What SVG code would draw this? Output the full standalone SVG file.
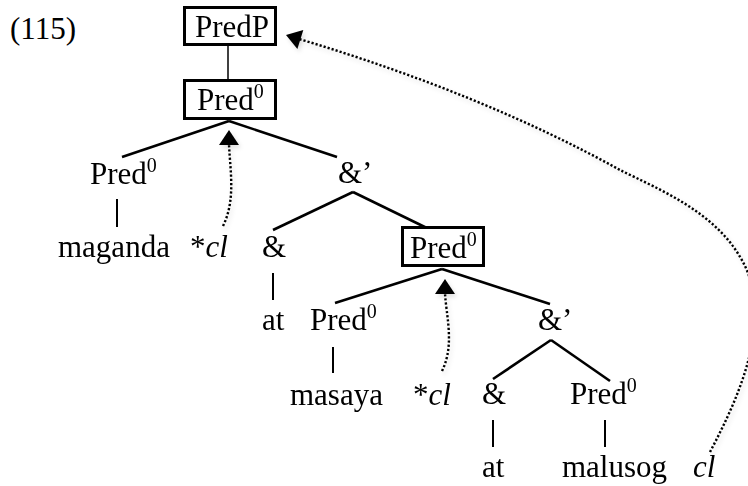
<svg xmlns="http://www.w3.org/2000/svg" width="748" height="486" viewBox="0 0 748 486">
<style>
text{font-family:"Liberation Serif","Tinos","Noto Serif","DejaVu Serif",serif;font-size:31px;fill:#000}
.sup{font-size:20px}
.it{font-style:italic}
.box{fill:#fff;stroke:#000;stroke-width:3}
.br{stroke:#000;stroke-width:2.6;fill:none;stroke-linecap:butt}
.bar{stroke:#000;stroke-width:2;fill:none}
.dot{stroke:#000;stroke-width:2.4;fill:none;stroke-dasharray:2.2 2}
.shd{filter:url(#sh)}
</style>
<defs>
<filter id="sh" x="-20%" y="-20%" width="140%" height="140%">
<feDropShadow dx="2" dy="3" stdDeviation="2" flood-color="#000" flood-opacity="0.12"/>
</filter>
<path id="arrow" d="M0,0 L10,15 L-10,15 z" fill="#000"/>
</defs>
<g id="label"><text x="10" y="39">(115)</text></g>
<g id="connectors">
<line class="bar" x1="228" y1="46" x2="228" y2="79" style="stroke-width:1.5"/>
<line class="br" x1="229" y1="121" x2="122" y2="157"/>
<line class="br" x1="229" y1="121" x2="337" y2="157"/>
<line class="br" x1="353" y1="192" x2="273" y2="230"/>
<line class="br" x1="353" y1="192" x2="433" y2="231"/>
<line class="br" x1="442" y1="269" x2="335" y2="303"/>
<line class="br" x1="442" y1="269" x2="550" y2="304"/>
<line class="br" x1="551" y1="340" x2="493" y2="379"/>
<line class="br" x1="551" y1="340" x2="610" y2="381"/>
<line class="bar" x1="117" y1="199" x2="117" y2="227"/>
<line class="bar" x1="273" y1="273" x2="273" y2="300"/>
<line class="bar" x1="333" y1="347" x2="333" y2="373"/>
<line class="bar" x1="493" y1="420" x2="493" y2="447"/>
<line class="bar" x1="605" y1="420" x2="605" y2="447"/>
<g class="shd">
<path class="dot" d="M223,226 C236,200 230,170 229,144"/>
<use href="#arrow" transform="translate(229,130)"/>
<path class="dot" d="M442,371 C455,345 446,315 445,293"/>
<use href="#arrow" transform="translate(445,279)"/>
<path class="dot" d="M710,452 C740,395 768,330 748,273 C725,215 660,190 620,170 C530,120 420,75 299,39"/>
<use href="#arrow" transform="translate(286,35) rotate(-72.8)"/>
</g>
</g>
<g id="PredP"><rect class="box" x="184.5" y="7.5" width="91" height="37"/><text x="195" y="37">PredP</text></g>
<g id="Pred0-top"><rect class="box" x="184.5" y="80.5" width="91" height="38"/><text x="197" y="110">Pred<tspan class="sup" dy="-12">0</tspan></text></g>
<g id="Pred0-a"><text x="90" y="184">Pred<tspan class="sup" dy="-12">0</tspan></text></g>
<g id="maganda"><text x="58" y="257">maganda</text></g>
<g id="cl-1"><text x="190" y="257">*<tspan class="it">cl</tspan></text></g>
<g id="amp-bar-1"><text x="338" y="183">&amp;’</text></g>
<g id="amp-1"><text x="262" y="257">&amp;</text></g>
<g id="at-1"><text x="262" y="330">at</text></g>
<g id="Pred0-mid"><rect class="box" x="402.5" y="227.5" width="81" height="38"/><text x="410" y="258">Pred<tspan class="sup" dy="-12">0</tspan></text></g>
<g id="Pred0-b"><text x="310" y="330">Pred<tspan class="sup" dy="-12">0</tspan></text></g>
<g id="masaya"><text x="290" y="405">masaya</text></g>
<g id="cl-2"><text x="413" y="405">*<tspan class="it">cl</tspan></text></g>
<g id="amp-bar-2"><text x="538" y="330">&amp;’</text></g>
<g id="amp-2"><text x="482" y="404">&amp;</text></g>
<g id="at-2"><text x="482" y="477">at</text></g>
<g id="Pred0-c"><text x="570" y="404">Pred<tspan class="sup" dy="-12">0</tspan></text></g>
<g id="malusog"><text x="562" y="477">malusog</text></g>
<g id="cl-3"><text class="it" x="693" y="477">cl</text></g>
</svg>
